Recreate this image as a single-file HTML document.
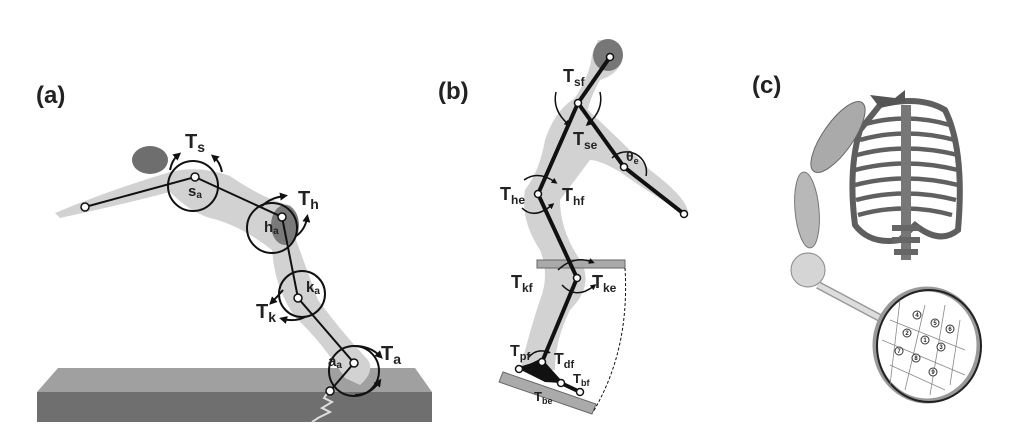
<!DOCTYPE html>
<html><head><meta charset="utf-8"><style>
html,body{margin:0;padding:0;background:#fff;}
svg{display:block;}
text{font-family:"Liberation Sans",Arial,sans-serif;font-weight:bold;fill:#222;}
</style></head><body>
<svg width="1022" height="434" viewBox="0 0 1022 434" xmlns="http://www.w3.org/2000/svg">
<defs>
<marker id="ar" markerWidth="8" markerHeight="8" refX="4" refY="4" orient="auto" markerUnits="userSpaceOnUse"><path d="M0,0 L8,4 L0,8 z" fill="#111"/></marker>
<marker id="ar2" markerWidth="6" markerHeight="6" refX="3" refY="3" orient="auto" markerUnits="userSpaceOnUse"><path d="M0,0 L6,3 L0,6 z" fill="#111"/></marker>
</defs>

<!-- PANEL A -->
<text x="36" y="103" font-size="24">(a)</text>
<polygon points="58,368 415,368 432,392 37,392" fill="#a0a0a0"/>
<polygon points="37,392 432,392 432,422 37,422" fill="#6f6f6f"/>
<polyline points="328,392 324,398 332,402 322,408 330,412 318,418 312,422" fill="none" stroke="#ddd" stroke-width="2"/>
<path d="M55,213 Q110,190 170,172 Q200,165 230,176 Q265,200 290,205 Q300,215 296,240 L318,300 Q340,330 368,360 Q375,372 360,385 L345,378 Q320,340 296,318 Q275,290 272,250 Q240,225 210,218 Q190,212 170,192 Q120,205 60,218 z" fill="#d2d2d2"/>
<ellipse cx="150" cy="160" rx="18" ry="14" fill="#6e6e6e"/>
<ellipse cx="285" cy="225" rx="14" ry="20" fill="#7a7a7a"/>
<polyline points="85,207 195,177 282,217 298,298 354,363 330,391" fill="none" stroke="#111" stroke-width="2"/>
<g fill="none" stroke="#111" stroke-width="2">
<circle cx="193" cy="186" r="25"/>
<circle cx="272" cy="228" r="25"/>
<circle cx="302" cy="294" r="23"/>
<circle cx="354" cy="371" r="25"/>
</g>
<g fill="none" stroke="#111" stroke-width="2">
<path d="M170,170 Q172,160 178,155" marker-end="url(#ar)"/>
<path d="M222,172 Q220,162 214,157" marker-end="url(#ar)"/>
<path d="M262,206 Q270,198 284,196" marker-end="url(#ar)"/>
<path d="M296,236 Q305,230 307,218" marker-end="url(#ar)"/>
<path d="M283,290 Q278,296 272,302" marker-end="url(#ar)"/>
<path d="M305,317 Q295,322 283,319" marker-end="url(#ar)"/>
<path d="M355,346 Q370,346 380,356" marker-end="url(#ar)"/>
<path d="M355,395 Q370,395 379,382" marker-end="url(#ar)"/>
</g>
<g fill="#fff" stroke="#111" stroke-width="1.5">
<circle cx="85" cy="207" r="4"/><circle cx="195" cy="177" r="4"/><circle cx="282" cy="217" r="4"/>
<circle cx="298" cy="298" r="4"/><circle cx="354" cy="363" r="4"/><circle cx="330" cy="391" r="4"/>
</g>
<text x="185" y="148" font-size="20">T<tspan font-size="14" dy="4">s</tspan></text>
<text x="298" y="205" font-size="20">T<tspan font-size="14" dy="4">h</tspan></text>
<text x="256" y="318" font-size="20">T<tspan font-size="14" dy="4">k</tspan></text>
<text x="381" y="360" font-size="20">T<tspan font-size="14" dy="4">a</tspan></text>
<text x="188" y="196" font-size="15">s<tspan font-size="10" dy="2">a</tspan></text>
<text x="264" y="232" font-size="15">h<tspan font-size="10" dy="2">a</tspan></text>
<text x="306" y="292" font-size="15">k<tspan font-size="10" dy="2">a</tspan></text>
<text x="328" y="366" font-size="15">a<tspan font-size="10" dy="2">a</tspan></text>

<!-- PANEL B -->
<text x="438" y="99" font-size="24">(b)</text>
<path d="M598,40 Q620,38 622,62 Q616,75 600,80 Q590,98 588,110 Q620,140 650,170 Q690,200 688,215 Q660,200 620,172 Q600,160 590,160 Q575,180 560,200 Q560,230 580,260 Q595,285 570,310 Q555,340 555,370 L520,370 Q530,330 540,300 Q550,275 540,250 Q520,220 525,190 Q540,170 545,140 Q555,110 575,98 Q590,75 592,55 z" fill="#d2d2d2"/>
<ellipse cx="608" cy="55" rx="15" ry="16" fill="#777"/>
<rect x="537" y="260" width="88" height="8" fill="#aaa" stroke="#666"/>
<polygon points="503,372 596,404 592,414 499,382" fill="#aaa" stroke="#666"/>
<path d="M625,268 Q630,350 593,412" fill="none" stroke="#111" stroke-width="1" stroke-dasharray="3,2"/>
<polygon points="519,369 542,358 561,383 545,382" fill="#111"/>
<g fill="none" stroke="#111" stroke-width="4">
<polyline points="610,57 578,103 538,194 577,278 542,362"/>
<polyline points="578,103 624,167 684,214"/>
<polyline points="542,362 519,369"/>
<polyline points="542,362 561,383 580,392"/>
</g>
<g fill="none" stroke="#111" stroke-width="1.5">
<path d="M556,92 Q552,110 568,124" marker-end="url(#ar2)"/>
<path d="M600,92 Q604,110 588,124" marker-end="url(#ar2)"/>
<path d="M612,158 A20,20 0 0 1 646,176"/>
<path d="M524,180 Q538,170 555,182" marker-end="url(#ar2)"/>
<path d="M522,208 Q534,220 552,205" marker-end="url(#ar2)"/>
<path d="M558,270 Q574,255 592,262" marker-end="url(#ar2)"/>
<path d="M562,285 Q576,300 594,286" marker-end="url(#ar2)"/>
<path d="M528,358 Q536,348 548,352" marker-end="url(#ar2)"/>
</g>
<g fill="#fff" stroke="#111" stroke-width="1.5">
<circle cx="610" cy="57" r="3.5"/><circle cx="578" cy="103" r="3.5"/><circle cx="624" cy="167" r="3.5"/>
<circle cx="684" cy="214" r="3.5"/><circle cx="538" cy="194" r="3.5"/><circle cx="577" cy="278" r="3.5"/>
<circle cx="542" cy="362" r="3.5"/><circle cx="519" cy="369" r="3.5"/><circle cx="561" cy="383" r="3.5"/><circle cx="580" cy="392" r="3.5"/>
</g>
<text x="563" y="82" font-size="18">T<tspan font-size="12" dy="4">sf</tspan></text>
<text x="573" y="145" font-size="18">T<tspan font-size="12" dy="4">se</tspan></text>
<text x="626" y="161" font-size="14">θ<tspan font-size="9" dy="3">e</tspan></text>
<text x="500" y="200" font-size="18">T<tspan font-size="12" dy="4">he</tspan></text>
<text x="562" y="201" font-size="18">T<tspan font-size="12" dy="4">hf</tspan></text>
<text x="511" y="288" font-size="18">T<tspan font-size="12" dy="4">kf</tspan></text>
<text x="592" y="288" font-size="18">T<tspan font-size="12" dy="4">ke</tspan></text>
<text x="510" y="356" font-size="16">T<tspan font-size="11" dy="4">pf</tspan></text>
<text x="554" y="364" font-size="16">T<tspan font-size="11" dy="4">df</tspan></text>
<text x="573" y="383" font-size="13">T<tspan font-size="9" dy="3">bf</tspan></text>
<text x="534" y="401" font-size="13">T<tspan font-size="9" dy="3">be</tspan></text>

<!-- PANEL C -->
<text x="752" y="93" font-size="24">(c)</text>
<path d="M880,105 Q920,95 945,110 Q965,150 958,230 Q940,245 915,225 L900,240 Q870,245 855,225 Q848,170 860,130 z" fill="none" stroke="#5e5e5e" stroke-width="6"/>
<g stroke="#606060" stroke-width="4.5" fill="none">
<path d="M862,125 Q905,112 950,125"/><path d="M860,140 Q905,127 955,140"/><path d="M857,155 Q905,142 958,155"/>
<path d="M855,170 Q905,157 958,170"/><path d="M855,185 Q905,172 958,185"/><path d="M856,200 Q905,187 956,200"/>
<path d="M858,215 Q905,202 952,215"/>
</g>
<polygon points="870,95 895,98 905,90 905,102 880,108" fill="#555"/>
<rect x="901" y="105" width="10" height="155" fill="#777"/>
<g fill="#666"><rect x="892" y="225" width="28" height="6"/><rect x="892" y="237" width="28" height="6"/><rect x="894" y="249" width="24" height="6"/></g>
<ellipse cx="838" cy="137" rx="15" ry="42" transform="rotate(35 838 137)" fill="#aaa" stroke="#666"/>
<ellipse cx="807" cy="210" rx="12" ry="38" transform="rotate(-5 807 210)" fill="#b8b8b8" stroke="#777"/>
<ellipse cx="808" cy="270" rx="17" ry="17" fill="#d5d5d5" stroke="#888"/>
<line x1="818" y1="285" x2="880" y2="318" stroke="#999" stroke-width="8"/>
<line x1="818" y1="285" x2="880" y2="318" stroke="#ddd" stroke-width="5"/>
<ellipse cx="927" cy="345" rx="52" ry="56" fill="#fff" stroke="#999" stroke-width="5"/>
<ellipse cx="927" cy="345" rx="52" ry="56" fill="none" stroke="#222" stroke-width="2" transform="translate(2,1)"/>
<g fill="none" stroke="#888" stroke-width="0.8">
<path d="M890,320 L965,350"/><path d="M882,340 L965,375"/><path d="M890,365 L945,390"/>
<path d="M900,300 L890,385"/><path d="M925,305 L905,390"/><path d="M945,305 L930,395"/><path d="M960,320 L950,385"/>
</g>
<g fill="#fff" stroke="#333" stroke-width="1">
<circle cx="917" cy="315" r="4"/><circle cx="935" cy="323" r="4"/><circle cx="950" cy="329" r="4"/>
<circle cx="907" cy="333" r="4"/><circle cx="925" cy="340" r="4"/><circle cx="941" cy="347" r="4"/>
<circle cx="899" cy="351" r="4"/><circle cx="916" cy="358" r="4"/><circle cx="933" cy="372" r="4"/>
</g>
<g font-size="6" text-anchor="middle" font-weight="normal">
<text x="917" y="317">4</text><text x="935" y="325">5</text><text x="950" y="331">6</text>
<text x="907" y="335">2</text><text x="925" y="342">1</text><text x="941" y="349">3</text>
<text x="899" y="353">7</text><text x="916" y="360">8</text><text x="933" y="374">9</text>
</g>
</svg>
</body></html>
